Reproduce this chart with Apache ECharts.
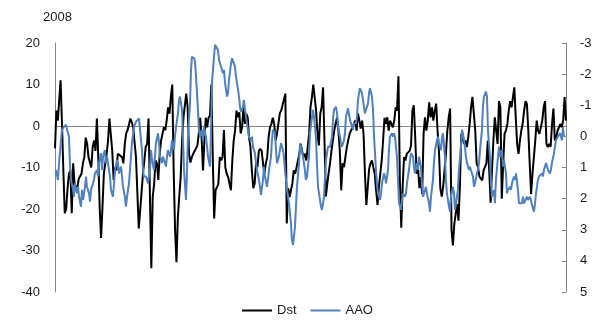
<!DOCTYPE html>
<html>
<head>
<meta charset="utf-8">
<script src="https://cdn.jsdelivr.net/npm/echarts@6/dist/echarts.min.js"></script>
<style>
html,body{margin:0;padding:0;background:#fff;}
#chart{width:612px;height:328px;}
</style>
</head>
<body>
<div id="chart"></div>
<script>
// Day of year 2008 and values
const titleText = '2008';
const seriesNames = ['Dst', 'AAO'];
const leftAxisRange = [-40, 20, 10];   // min, max, interval
const rightAxisRange = [-3, 5, 1];     // min, max, interval (inverted axis)

const dst = [[0,-5.4],[1,3.7],[2,1.3],[4,11],[5,0.6],[6,-11],[7,-21],[8,-20],[9,-15],[10,-11.5],[11,-10.7],[12,-21],[13,-9],[14,-14],[16,-15],[17,-12.7],[19,-11.5],[20,-9],[21,-7.5],[22,-2.8],[23,-4.3],[24,-7.5],[26,-10],[27,-5],[28,-3.5],[29,-6],[30,1.8],[31,-7.5],[32,-19.6],[33,-27],[34,-19.6],[35,-11.5],[36,-9],[37,-6.7],[38,-3.5],[39,1.8],[41,-6],[42,-13],[43,-10],[44,-10.7],[45,-6.7],[46,-6.4],[48,-7.5],[49,-9],[50,-4.3],[51,-1.8],[52,-1],[54,1.8],[55,0.9],[56,-0.3],[58,-7.5],[60,-24.7],[62,-16],[63,-11.5],[64,-8.3],[65,-5],[66,-4.3],[67,1.8],[68,-17],[69,-34.3],[70,-17],[71,-14],[72,-8.3],[73,-9],[74,-13],[75,-6.7],[76,-3.5],[78,-0.3],[79,-1],[80,1.3],[81,4.5],[82,3],[83,7],[84,10],[85,-10.7],[86,-25],[87,-32.8],[88,-22],[89,-17],[90,-12.4],[91,-3.5],[92,2],[94,7.8],[95,4.5],[96,-6.7],[97,-8.8],[98,-7.5],[99,-6.7],[100,-6.7],[101,-5.4],[102,-4.7],[103,-1.8],[104,2],[105,-2.8],[106,-10.7],[107,-3.5],[108,2],[109,-0.3],[110,2],[111,2.5],[112,10],[113,-7.5],[114,-22.3],[115,-15.5],[117,-14],[118,-7.5],[119,-8.3],[120,-7.5],[121,-1],[122,-10],[123,-11.5],[124,-12.3],[125,-13.9],[126,-15.5],[127,-8.3],[128,-3.5],[129,-1],[130,3.7],[131,2.1],[132,3.3],[133,-1.8],[134,-0.3],[135,4.5],[136,0.5],[137,2.9],[138,2.1],[139,-2.8],[140,-5.1],[141,-10.7],[142,-15],[143,-13.9],[144,-9],[145,-9.9],[146,-6],[147,-5.5],[148,-6],[149,-9],[150,-11.5],[151,-9],[152,-7.5],[153,-2.7],[154,-0.3],[155,0.5],[156,2],[157,0.5],[158,-3.5],[159,-1.9],[160,0.5],[161,3],[162,3.7],[163,3.7],[165,7.8],[166,-23.5],[167,-15],[168,-17.1],[169,-15.5],[170,-13.9],[171,-10.7],[172,-11.5],[173,-10],[174,-8.3],[175,-6.7],[176,-4.3],[177,-6],[178,-7.5],[179,-6.7],[180,-8.3],[181,-5.1],[182,-1.9],[183,4.5],[184,6.9],[185,10],[186,6.9],[187,3.7],[188,-1.9],[189,-4.7],[190,3],[191,4.5],[192,9.3],[193,-3.5],[194,-17],[195,-14],[196,-11.3],[197,-9],[198,-6],[199,-3.5],[200,-1.1],[201,0.6],[202,2],[203,-1.1],[204,-6],[205,-15.5],[206,-9],[207,-9.9],[208,-7.5],[209,-5.1],[210,-3.5],[211,-1.9],[212,-1.1],[213,-0.3],[214,0.5],[215,1.3],[216,-1.1],[217,3],[218,1.3],[219,-0.6],[220,1.3],[221,-1.9],[222,-11.5],[223,-19],[224,-14.7],[225,-10.3],[226,-9],[227,-8.3],[228,-8.7],[229,-11.5],[230,-15.5],[231,-19],[232,-14.7],[233,-11.5],[234,-8.3],[235,-3.5],[236,2],[237,0.5],[238,2.1],[239,-1.1],[240,1.3],[241,0.5],[242,-0.3],[243,1.3],[244,4.5],[245,3.7],[246,12],[247,-13],[248,-24.5],[249,-14.7],[250,-7.5],[251,-8.3],[252,-6.7],[254,-6],[255,-4.7],[256,3.7],[257,5],[258,-2.7],[259,-11.5],[260,-9.9],[261,-15],[262,-12.3],[263,-16.4],[264,-1.8],[265,2.1],[266,-1.1],[267,1.3],[268,5.7],[269,2.1],[270,4.5],[271,1.3],[272,3.7],[273,5.4],[274,-1.1],[275,-6],[276,-15],[277,-17],[278,-14.7],[279,-10.7],[280,-6.7],[281,-1.1],[282,2.1],[283,4.2],[284,-25],[285,-28.8],[286,-23.6],[287,-21.2],[288,-18.8],[289,-22.8],[290,-14.7],[291,-1.8],[292,-1.9],[293,-4.3],[294,-3.5],[295,-5.1],[296,-2.7],[297,0.5],[298,4.5],[299,7],[301,-1.1],[302,-9],[303,-9.9],[304,-12.2],[306,-13.1],[307,-10.7],[309,-9],[310,-3.5],[311,-10.7],[312,-18.5],[313,-10.7],[314,-3.5],[315,2.1],[317,-4.3],[318,6],[319,4.5],[320,-17.5],[321,-9],[322,-1.8],[323,-1.1],[324,0.5],[325,3.7],[326,6],[327,4.5],[328,6.9],[329,9.3],[330,2.1],[331,-4.3],[332,-6.7],[333,-3.5],[334,-1.1],[335,0.6],[336,3.7],[337,6],[338,5.3],[339,-1.1],[340,-9],[341,-16.4],[342,-11.5],[343,-7.5],[344,-3.5],[345,1.3],[346,-1.1],[347,-1.9],[348,-1.9],[349,1.3],[350,4.5],[351,6],[352,-4.3],[353,-5.1],[354,-4.3],[355,-5],[356,0.5],[357,4.2],[358,-3.5],[359,-2.7],[360,-1.1],[361,-0.3],[362,0.5],[363,-0.3],[364,1.3],[365,7],[366,1.3]];

const aao = [[0.7,1.08],[2.1,1.40],[2.9,0.86],[4.3,0.12],[5.0,-0.21],[6.4,-0.31],[7.9,-0.37],[8.6,-0.21],[10.0,0.01],[10.7,0.86],[11.5,1.40],[12.9,1.72],[13.6,1.94],[14.3,1.51],[15.8,1.83],[16.5,1.62],[17.2,1.94],[18.6,2.26],[19.3,1.72],[20.1,2.04],[21.5,1.62],[22.2,1.29],[22.9,1.62],[24.4,1.83],[25.1,2.10],[25.8,1.72],[27.2,1.51],[27.9,1.40],[28.6,1.19],[30.1,1.08],[30.8,1.29],[31.5,0.86],[32.9,0.54],[33.7,1.08],[34.4,0.65],[35.8,0.44],[36.5,0.86],[37.2,0.65],[38.7,1.08],[39.4,1.29],[40.1,1.72],[41.5,1.94],[42.3,1.51],[43.0,1.08],[44.4,0.76],[45.1,0.86],[45.8,1.19],[47.3,0.97],[48.0,1.29],[48.7,1.62],[50.1,1.94],[50.8,2.26],[51.6,1.94],[53.0,1.51],[53.7,1.08],[55.1,0.22],[56.6,-0.31],[58.0,-0.47],[59.4,-0.53],[60.2,-0.58],[60.9,-0.21],[62.3,0.44],[63.0,1.08],[63.7,1.29],[65.2,1.29],[65.9,1.40],[66.6,1.51],[68.0,1.08],[68.8,0.44],[69.5,0.76],[70.9,1.08],[71.6,0.65],[72.3,0.22],[73.8,-0.10],[74.5,0.22],[75.2,0.65],[76.6,0.86],[77.3,0.65],[78.1,0.76],[79.5,0.97],[80.2,0.65],[80.9,0.44],[82.4,0.65],[83.1,0.44],[83.8,0.12],[85.2,0.44],[85.9,0.01],[86.7,-0.31],[88.1,-0.74],[88.8,-1.17],[89.5,-1.28],[91.0,-0.85],[91.7,0.12],[92.4,1.08],[93.8,2.04],[94.5,1.19],[95.3,-0.10],[96.7,-1.06],[97.4,-2.13],[98.1,-2.56],[99.6,-2.51],[100.3,-2.40],[101.0,-1.92],[102.4,-0.85],[103.1,-0.21],[103.9,0.01],[105.3,-0.21],[106.0,0.12],[106.7,-0.31],[108.1,0.01],[108.9,0.33],[109.6,0.65],[111.0,0.97],[111.7,-0.10],[112.4,-1.71],[113.9,-2.56],[114.6,-2.94],[115.3,-2.99],[116.7,-2.78],[117.5,-2.45],[118.2,-2.35],[118.9,-2.24],[120.3,-2.03],[121.0,-2.13],[121.8,-1.71],[123.2,-1.28],[123.9,-1.38],[124.6,-1.81],[126.1,-2.35],[126.8,-2.51],[127.5,-2.45],[128.9,-2.24],[129.6,-1.92],[130.4,-1.71],[131.8,-1.28],[132.5,-0.95],[133.2,-0.79],[134.6,-0.95],[135.3,-1.17],[136.1,-0.85],[137.5,-0.42],[138.2,-0.21],[138.9,0.01],[140.4,0.12],[141.1,0.01],[141.8,0.33],[143.2,0.54],[144.0,0.86],[144.7,1.08],[146.1,1.40],[146.8,1.62],[147.5,1.88],[149.0,1.40],[149.7,0.97],[150.4,1.29],[151.8,1.62],[152.5,1.40],[153.3,1.08],[154.7,0.65],[155.4,0.12],[156.1,-0.21],[157.6,-0.10],[158.3,0.44],[159.0,0.86],[160.4,0.65],[161.1,0.44],[161.9,0.22],[163.3,0.44],[164.0,0.65],[164.7,1.08],[166.2,1.72],[166.9,1.94],[167.6,2.15],[169.0,2.79],[169.7,3.33],[170.5,3.49],[171.9,2.90],[172.6,2.26],[173.3,1.62],[174.8,0.86],[175.5,0.22],[176.2,0.33],[177.6,0.65],[178.3,0.86],[179.0,1.08],[179.7,1.40],[180.5,1.29],[181.9,0.65],[182.6,-0.10],[184.1,-0.63],[184.8,-0.85],[185.5,-0.63],[186.9,0.01],[187.6,0.86],[188.4,1.62],[189.8,2.04],[190.5,2.26],[191.2,2.36],[192.7,1.94],[193.4,1.29],[194.1,0.76],[195.5,0.33],[196.2,0.33],[197.0,0.33],[198.4,0.01],[199.1,-0.53],[199.8,-0.85],[201.3,-0.95],[202.0,-0.74],[202.7,-0.31],[204.1,0.01],[204.8,0.22],[205.5,0.33],[207.0,0.12],[207.7,-0.10],[208.4,-0.63],[209.8,-0.90],[210.6,-0.85],[211.3,-0.53],[212.7,-0.31],[213.4,-0.21],[214.1,-0.42],[215.6,-0.42],[216.3,-0.63],[217.0,-1.17],[218.4,-1.55],[219.2,-1.60],[219.9,-1.38],[221.3,-0.95],[222.0,-0.74],[222.7,-0.85],[224.2,-1.06],[224.9,-1.38],[225.6,-1.55],[227.0,-1.28],[227.8,-0.85],[228.5,0.01],[229.9,1.08],[230.6,1.51],[231.3,1.83],[232.8,2.04],[233.5,1.83],[234.2,1.51],[235.6,1.19],[236.3,1.29],[237.1,1.51],[238.5,1.08],[239.2,0.44],[239.9,0.01],[241.4,-0.10],[242.1,0.01],[242.8,-0.10],[243.5,0.01],[244.9,0.65],[245.7,1.40],[246.4,2.15],[247.8,2.36],[248.5,2.04],[249.2,1.83],[250.7,1.94],[251.4,1.83],[252.1,1.51],[253.5,1.08],[254.3,0.76],[255.0,0.54],[256.4,0.65],[257.1,0.97],[257.8,1.19],[259.3,0.86],[260.0,1.08],[260.7,0.65],[262.1,0.97],[262.8,1.51],[263.6,1.94],[265.0,1.72],[265.7,1.62],[266.4,1.83],[267.9,2.15],[268.6,2.42],[269.3,1.94],[270.7,1.40],[271.4,0.86],[272.2,0.44],[273.6,0.12],[274.3,0.01],[275.0,0.22],[276.5,0.44],[277.2,0.01],[277.9,-0.10],[279.3,0.65],[280.0,1.40],[280.7,1.83],[282.2,2.26],[282.9,2.42],[283.6,1.94],[285.0,1.62],[285.8,1.83],[286.5,2.36],[287.9,1.94],[288.6,1.72],[289.3,1.08],[290.8,0.33],[291.5,-0.21],[292.2,-0.10],[293.6,0.33],[294.3,0.65],[295.1,0.86],[296.5,1.08],[297.2,0.97],[297.9,1.08],[299.4,1.29],[300.1,1.62],[300.8,1.51],[302.2,1.19],[302.9,1.08],[303.7,0.86],[304.4,0.44],[305.8,-0.21],[306.5,-0.95],[307.2,-1.28],[308.7,-1.44],[309.4,-1.28],[310.1,-0.21],[311.5,0.65],[312.3,1.51],[313.0,1.94],[314.4,1.72],[315.1,2.15],[315.8,1.40],[317.3,0.65],[318.0,0.33],[318.7,0.65],[320.1,0.44],[320.9,0.97],[321.6,0.76],[323.0,1.19],[323.7,1.83],[324.4,1.72],[325.9,1.62],[326.6,1.72],[327.3,1.51],[328.7,1.29],[329.5,1.40],[330.2,1.19],[331.6,1.72],[332.3,2.15],[333.0,2.10],[334.5,2.15],[335.2,1.94],[335.9,2.15],[337.3,2.20],[338.1,1.94],[338.8,2.04],[340.2,1.94],[340.9,2.04],[341.6,2.20],[343.1,2.42],[343.8,2.15],[344.5,1.83],[345.9,1.40],[346.6,1.29],[347.4,1.29],[348.8,1.19],[349.5,1.29],[350.2,1.08],[351.7,0.86],[352.4,0.97],[353.1,1.08],[354.5,1.19],[355.2,1.08],[355.9,0.86],[357.4,0.54],[358.1,0.33],[358.8,0.12],[360.2,0.01],[361.0,0.01],[361.7,-0.10],[363.1,0.12],[363.8,-0.30],[364.5,0.0]];

const font = 'Liberation Sans, Arial, sans-serif';
const textColor = '#1a1a1a';
const axisGrey = '#868686';

const chart = echarts.init(document.getElementById('chart'), null, {renderer: 'canvas'});
chart.setOption({
  animation: false,
  backgroundColor: '#ffffff',
  title: {
    text: titleText, left: 38, top: 6,
    textStyle: {fontFamily: font, fontSize: 13, fontWeight: 'normal', color: textColor}
  },
  legend: {
    data: seriesNames, left: 237, top: 299, itemGap: 14, itemWidth: 30, itemHeight: 2,
    icon: 'rect',
    textStyle: {fontFamily: font, fontSize: 13, color: textColor}
  },
  grid: {left: 55, right: 46, top: 43, bottom: 36, containLabel: false},
  xAxis: {
    type: 'value', min: 0, max: 366,
    axisLine: {show: true, onZero: true, onZeroAxisIndex: 0, lineStyle: {color: axisGrey, width: 1}},
    axisTick: {show: false}, axisLabel: {show: false}, splitLine: {show: false}
  },
  yAxis: [
    {
      type: 'value', position: 'left',
      min: leftAxisRange[0], max: leftAxisRange[1], interval: leftAxisRange[2],
      axisLine: {show: true, lineStyle: {color: axisGrey, width: 1}},
      axisTick: {show: false},
      axisLabel: {margin: 15, fontFamily: font, fontSize: 13, color: textColor},
      splitLine: {show: false}
    },
    {
      type: 'value', position: 'right', inverse: true,
      min: rightAxisRange[0], max: rightAxisRange[1], interval: rightAxisRange[2],
      axisLine: {show: true, lineStyle: {color: axisGrey, width: 1}},
      axisTick: {show: true, inside: true, length: 4, lineStyle: {color: axisGrey}},
      axisLabel: {margin: 14, fontFamily: font, fontSize: 13, color: textColor},
      splitLine: {show: false}
    }
  ],
  series: [
    {
      name: seriesNames[0], type: 'line', yAxisIndex: 0, data: dst,
      showSymbol: false, symbol: 'none', color: '#000000',
      lineStyle: {color: '#000000', width: 2}, z: 2
    },
    {
      name: seriesNames[1], type: 'line', yAxisIndex: 1, data: aao,
      showSymbol: false, symbol: 'none', color: '#4F81BD',
      lineStyle: {color: '#4F81BD', width: 2}, z: 3
    }
  ]
});
</script>
</body>
</html>
